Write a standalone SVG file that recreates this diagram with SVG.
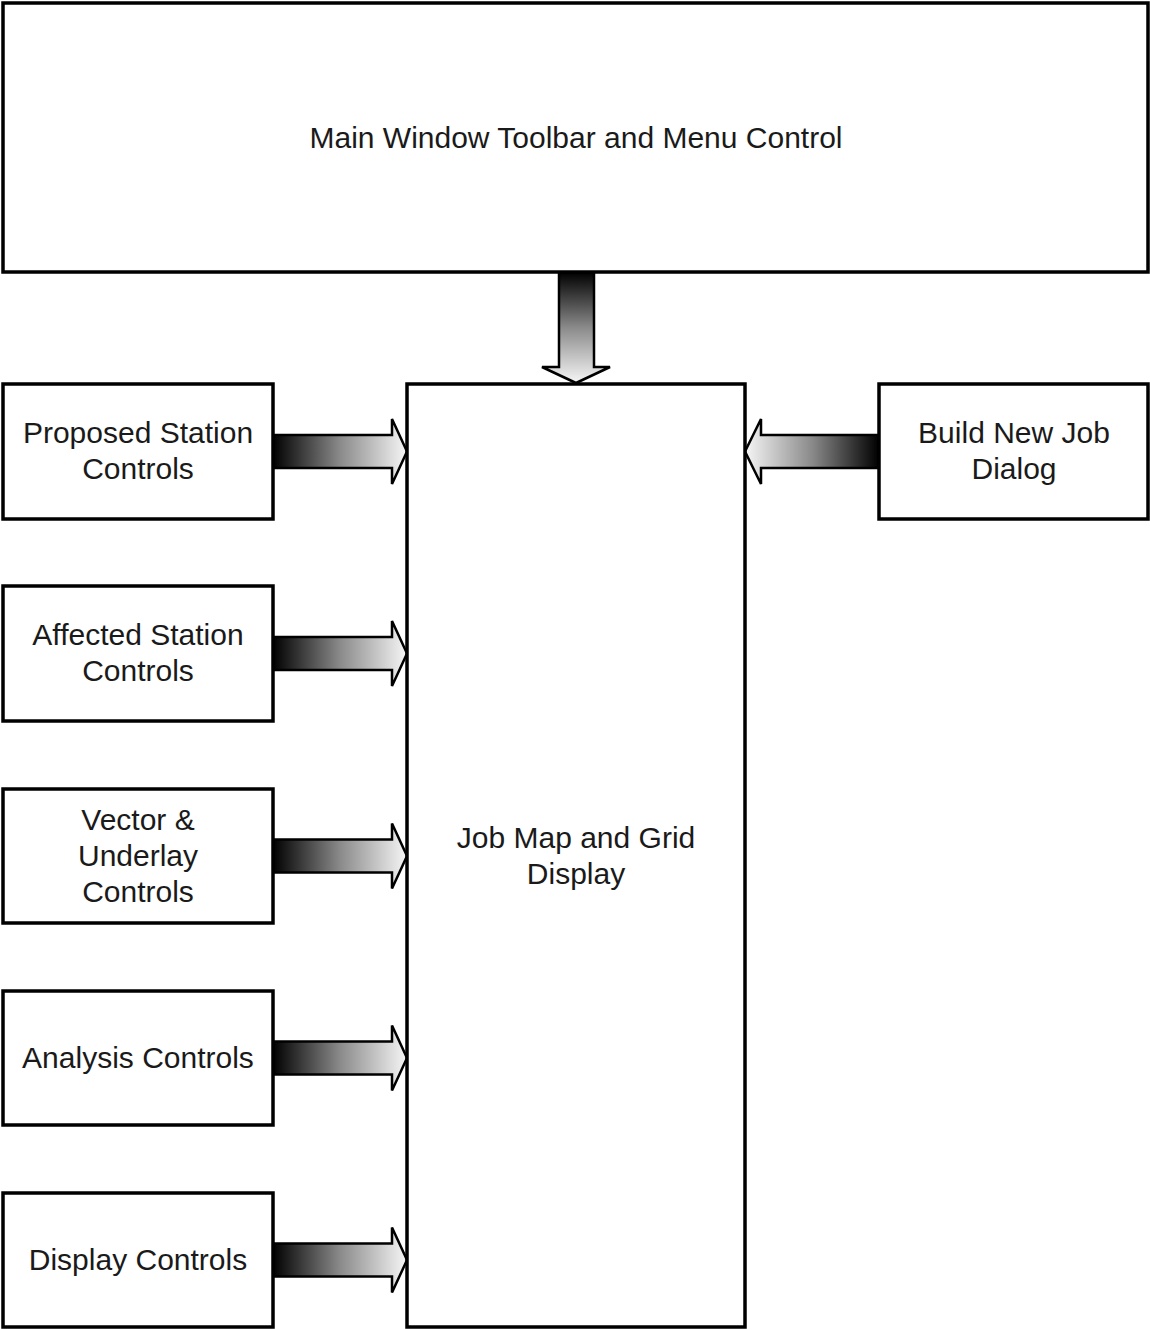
<svg xmlns="http://www.w3.org/2000/svg" width="1150" height="1330" viewBox="0 0 1150 1330">
<style>
.box{fill:#fff;stroke:#000;stroke-width:3.5}
.lbl{font-family:"Liberation Sans",Arial,sans-serif;font-size:30px;fill:#1a1a1a;text-anchor:middle}
.arr{stroke:#000;stroke-width:2.5;stroke-linejoin:miter}
</style>
<defs>
<linearGradient id="gR" x1="0" y1="0" x2="1" y2="0"><stop offset="0" stop-color="#000"/><stop offset="0.5" stop-color="#8a8a8a"/><stop offset="1" stop-color="#f6f6f6"/></linearGradient>
<linearGradient id="gL" x1="1" y1="0" x2="0" y2="0"><stop offset="0" stop-color="#000"/><stop offset="0.5" stop-color="#8a8a8a"/><stop offset="1" stop-color="#f6f6f6"/></linearGradient>
<linearGradient id="gD" x1="0" y1="0" x2="0" y2="1"><stop offset="0" stop-color="#000"/><stop offset="0.5" stop-color="#8a8a8a"/><stop offset="1" stop-color="#f6f6f6"/></linearGradient>
</defs>
<g id="connectors">
<polygon class="arr" fill="url(#gD)" points="559,272 594,272 594,367 610,367 576,383 542,367 559,367"/>
<polygon class="arr" fill="url(#gR)" points="273,435 392,435 392,419 407,451.5 392,484 392,468 273,468"/>
<polygon class="arr" fill="url(#gR)" points="273,637 392,637 392,621 407,653.5 392,686 392,670 273,670"/>
<polygon class="arr" fill="url(#gR)" points="273,839.5 392,839.5 392,823.5 407,856 392,888.5 392,872.5 273,872.5"/>
<polygon class="arr" fill="url(#gR)" points="273,1041.5 392,1041.5 392,1025.5 407,1058 392,1090.5 392,1074.5 273,1074.5"/>
<polygon class="arr" fill="url(#gR)" points="273,1243.5 392,1243.5 392,1227.5 407,1260 392,1292.5 392,1276.5 273,1276.5"/>
<polygon class="arr" fill="url(#gL)" points="879,435 761,435 761,419 745,451.5 761,484 761,468 879,468"/>
</g>
<g id="main"><rect class="box" x="3" y="3" width="1145" height="269"/><text class="lbl" x="576" y="148">Main Window Toolbar and Menu Control</text></g>
<g id="jobmap"><rect class="box" x="407" y="384" width="338" height="943"/><text class="lbl" x="576" y="848">Job Map and Grid</text><text class="lbl" x="576" y="884">Display</text></g>
<g id="proposed"><rect class="box" x="3" y="384" width="270" height="135"/><text class="lbl" x="138" y="443">Proposed Station</text><text class="lbl" x="138" y="479">Controls</text></g>
<g id="affected"><rect class="box" x="3" y="586" width="270" height="135"/><text class="lbl" x="138" y="645">Affected Station</text><text class="lbl" x="138" y="681">Controls</text></g>
<g id="vector"><rect class="box" x="3" y="789" width="270" height="134"/><text class="lbl" x="138" y="830">Vector &amp;</text><text class="lbl" x="138" y="866">Underlay</text><text class="lbl" x="138" y="902">Controls</text></g>
<g id="analysis"><rect class="box" x="3" y="991" width="270" height="134"/><text class="lbl" x="138" y="1068">Analysis Controls</text></g>
<g id="display"><rect class="box" x="3" y="1193" width="270" height="134"/><text class="lbl" x="138" y="1270">Display Controls</text></g>
<g id="buildnew"><rect class="box" x="879" y="384" width="269" height="135"/><text class="lbl" x="1014" y="443">Build New Job</text><text class="lbl" x="1014" y="479">Dialog</text></g>
</svg>
